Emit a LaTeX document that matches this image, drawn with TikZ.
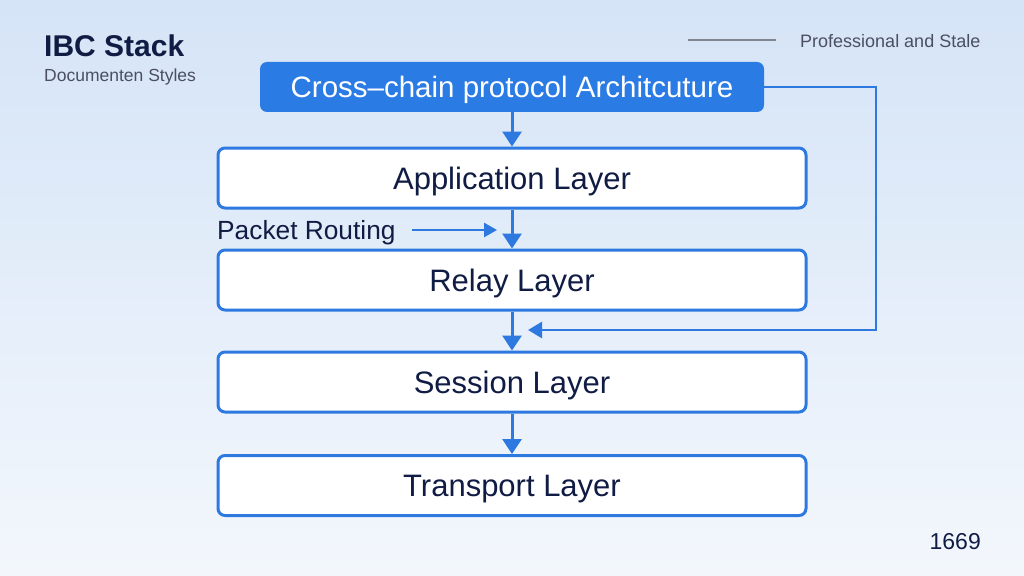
\documentclass[tikz,border=0pt]{standalone}
\usepackage{fontspec}
\setmainfont{Liberation Sans}
\usetikzlibrary{arrows.meta}
\definecolor{bluefill}{HTML}{2B7BE5}
\definecolor{blueline}{HTML}{2D79E0}
\definecolor{navy}{HTML}{101C44}
\definecolor{graytxt}{HTML}{4A5060}
\definecolor{bgtop}{HTML}{D5E4F7}
\definecolor{bgbot}{HTML}{F3F7FC}
\tikzset{
  layer/.style={draw=blueline, line width=3pt, fill=white, rounded corners=7pt,
    minimum width=588pt, minimum height=60pt, text=navy,
    text height=22pt, text depth=0pt,
    font=\fontsize{31}{36}\selectfont},
  topbox/.style={fill=bluefill, rounded corners=7pt, minimum width=504pt,
    minimum height=50pt, text=white, text height=21pt, text depth=0pt,
    font=\fontsize{29.5}{34}\selectfont},
  conn/.style={draw=blueline, line width=3pt, -{Triangle[width=19pt,length=15pt]}},
  smallconn/.style={draw=blueline, line width=2.6pt, -{Triangle[width=14pt,length=13pt]}},
  title/.style={text=navy, inner sep=0pt, anchor=west},
  note/.style={text=graytxt, inner sep=0pt}
}
\begin{document}
\begin{tikzpicture}[x=1pt,y=-1pt]
\shade[top color=bgtop, bottom color=bgbot] (0,0) rectangle (1024,575);
\useasboundingbox (0,0) rectangle (1024,575);

\node[title, font=\bfseries\fontsize{30}{34}\selectfont] (ttl) at (44,46) {IBC Stack};
\node[note, anchor=west, font=\fontsize{17.5}{20}\selectfont] (sub) at (44,77) {Documenten Styles};
\node[note, anchor=west, font=\fontsize{18}{21}\selectfont] (prof) at (800,41) {Professional and Stale};
\coordinate (rl1) at (688,40);
\coordinate (rl2) at (776,40);
\draw[graytxt!70, line width=1.5pt] (rl1) -- (rl2);

\node[topbox] (top) at (512,87) {Cross–chain protocol Architcuture};
\node[layer] (app) at (512,178) {Application Layer};
\node[layer] (relay) at (512,280) {Relay Layer};
\node[layer] (sess) at (512,382) {Session Layer};
\node[layer] (trans) at (512,485.5) {Transport Layer};

\draw[conn] (top.south) -- (app.north);
\draw[conn] (app.south) -- (relay.north);
\draw[conn] (relay.south) -- (sess.north);
\draw[conn] (sess.south) -- (trans.north);

\node[text=navy, inner sep=0pt, anchor=west, text height=19pt, text depth=0pt,
  font=\fontsize{26.3}{30}\selectfont] (pr) at (217,230) {Packet Routing};
\coordinate (prend) at (497,230);
\draw[smallconn] ([xshift=16pt]pr.east) -- (prend);

\coordinate (fbcorner) at (876,87);
\coordinate (fbend) at (528,330);
\draw[smallconn, -{Triangle[width=16pt,length=14pt]}] (top.east) -- (fbcorner) |- (fbend);

\node[text=navy, inner sep=0pt, anchor=east, text height=16pt, text depth=0pt,
  font=\fontsize{23}{27}\selectfont] (num) at (981,541) {1669};
\end{tikzpicture}
\end{document}
